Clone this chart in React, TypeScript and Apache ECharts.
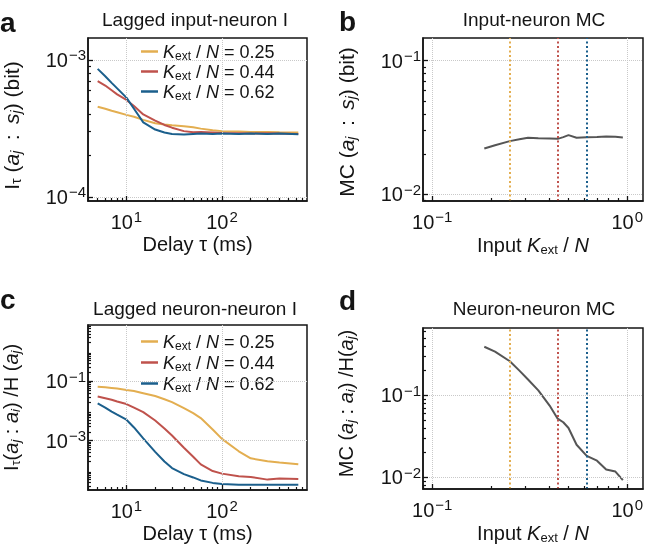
import React, { useEffect, useRef } from 'react';
import * as echarts from 'echarts';

const FONT = "'Liberation Sans', Arial, Helvetica, sans-serif";
const INK = '#141414';

// ---------- data ----------
const delays = [5, 6, 7, 8, 10, 12, 15, 20, 25, 30, 40, 50, 60, 80, 100, 150, 200, 300, 400, 630];

// panel a: lagged input-neuron information (bit)
const inputNeuron025 = [4.55e-4, 4.4e-4, 4.25e-4, 4.15e-4, 3.97e-4, 3.85e-4, 3.65e-4, 3.45e-4, 3.38e-4, 3.33e-4, 3.28e-4, 3.22e-4, 3.15e-4, 3.07e-4, 3.02e-4, 3.0e-4, 2.98e-4, 2.97e-4, 2.96e-4, 2.95e-4];
const inputNeuron044 = [7.0e-4, 6.5e-4, 6.0e-4, 5.6e-4, 5.1e-4, 4.6e-4, 4.0e-4, 3.6e-4, 3.35e-4, 3.2e-4, 3.02e-4, 2.96e-4, 2.97e-4, 2.95e-4, 2.93e-4, 2.92e-4, 2.9e-4, 2.92e-4, 2.9e-4, 2.88e-4];
const inputNeuron062 = [8.6e-4, 7.6e-4, 6.8e-4, 6.2e-4, 5.3e-4, 4.4e-4, 3.5e-4, 3.1e-4, 2.95e-4, 2.88e-4, 2.85e-4, 2.88e-4, 2.9e-4, 2.88e-4, 2.9e-4, 2.88e-4, 2.9e-4, 2.88e-4, 2.9e-4, 2.87e-4];

// panel c: lagged neuron-neuron information / H
const neuronNeuron025 = [0.066, 0.063, 0.06, 0.057, 0.051, 0.047, 0.04, 0.032, 0.025, 0.02, 0.0125, 0.0085, 0.0058, 0.0024, 0.00115, 4.4e-4, 2.55e-4, 2.05e-4, 1.85e-4, 1.6e-4];
const neuronNeuron044 = [0.031, 0.027, 0.024, 0.021, 0.0172, 0.013, 0.0092, 0.0048, 0.0026, 0.0015, 5.8e-4, 2.9e-4, 1.6e-4, 9.5e-5, 7.8e-5, 6.4e-5, 6.0e-5, 4.9e-5, 5.3e-5, 5.1e-5];
const neuronNeuron062 = [0.018, 0.013, 0.0095, 0.0075, 0.0051, 0.0028, 0.0012, 4.2e-4, 2.0e-4, 1.2e-4, 7.5e-5, 5.8e-5, 4.6e-5, 3.8e-5, 3.5e-5, 3.3e-5, 3.3e-5, 3.3e-5, 3.3e-5, 3.3e-5];

// panels b, d: memory capacity vs input ratio
const kRatio = [0.185, 0.21, 0.25, 0.28, 0.31, 0.35, 0.4, 0.44, 0.47, 0.5, 0.55, 0.62, 0.7, 0.78, 0.87, 0.95];
const mcInputNeuron = [0.022, 0.0233, 0.025, 0.0258, 0.0265, 0.0263, 0.0262, 0.026, 0.0268, 0.0277, 0.0265, 0.0267, 0.0268, 0.0271, 0.027, 0.0266];
const mcNeuronNeuron = [0.39, 0.34, 0.26, 0.2, 0.156, 0.115, 0.075, 0.052, 0.047, 0.04, 0.025, 0.0183, 0.016, 0.0125, 0.0118, 0.0093];

const ratioLevels = ['0.25', '0.44', '0.62'];
const ratioMarks = [0.25, 0.44, 0.62];
const levelColors = ['#E3AE50', '#BF524C', '#1B5F8C'];

// tick values
const delayMajor = [10, 100];
const ratioMajor = [0.1, 1];
const aYMajor = [1e-4, 1e-3];
const bYMajor = [0.01, 0.1];
const cYMajor = [1e-3, 1e-1];
const dYMajor = [0.01, 0.1];

const minorsIn = (lo: number, hi: number) => {
  const out: number[] = [];
  for (let e = -6; e <= 3; e++) {
    for (let k = 2; k <= 9; k++) {
      const v = k * Math.pow(10, e);
      if (v > lo && v < hi) out.push(v);
    }
  }
  return out;
};

// ---------- styling helpers ----------
const makeNameRich = (fs: number, subFs: number) => ({
  n: { fontSize: fs, fontFamily: FONT, color: INK },
  i: { fontSize: fs, fontFamily: FONT, fontStyle: 'italic', color: INK },
  sub: { fontSize: subFs, fontFamily: FONT, color: INK, padding: [9, 0, 0, 0] },
  isub: { fontSize: subFs, fontFamily: FONT, fontStyle: 'italic', color: INK, padding: [9, 0, 0, 0] },
});

const legendRich = {
  n: { fontSize: 18, fontFamily: FONT, color: INK, lineHeight: 20 },
  i: { fontSize: 18, fontFamily: FONT, fontStyle: 'italic', color: INK, lineHeight: 20 },
  sub: { fontSize: 12, fontFamily: FONT, color: INK, lineHeight: 20, padding: [8, 0, 0, 0] },
};

const tickRich = {
  b: { fontSize: 20, fontFamily: FONT, color: INK },
  sup: { fontSize: 15, fontFamily: FONT, color: INK, padding: [0, 0, 10, 1] },
};

const powLabel = (v: number) => {
  const e = Math.round(Math.log10(v));
  return `{b|10}{sup|${e < 0 ? '\u2212' : ''}${Math.abs(e)}}`;
};

type AxisSpec = {
  grid: number;
  min: number;
  max: number;
  majors: number[];
  name: string;
  nameGap: number;
  labelMargin: number;
  nameSize?: number;
  subSize?: number;
  namePadding?: number[];
};

const makeAxes = (dim: 'x' | 'y', s: AxisSpec) => {
  const position = dim === 'x' ? 'bottom' : 'left';
  const fs = s.nameSize ?? 20;
  const major = {
    type: 'log',
    logBase: 10,
    gridIndex: s.grid,
    position,
    min: s.min,
    max: s.max,
    axisLine: { show: true, lineStyle: { color: INK, width: 1.5 } },
    axisTick: { show: true, inside: true, length: 5, lineStyle: { color: INK, width: 1.3 }, customValues: s.majors },
    axisLabel: { show: true, customValues: s.majors, formatter: powLabel, rich: tickRich, margin: s.labelMargin, color: INK },
    splitLine: { show: true, lineStyle: { color: '#c9c9c9', type: 'dotted', width: 1 } },
    minorTick: { show: false },
    minorSplitLine: { show: false },
    name: s.name,
    nameLocation: 'middle',
    nameGap: s.nameGap,
    nameRotate: dim === 'y' ? 90 : 0,
    nameTextStyle: {
      rich: makeNameRich(fs, s.subSize ?? 13),
      fontFamily: FONT,
      fontSize: fs,
      color: INK,
      padding: s.namePadding ?? 0,
    },
    z: 5,
  };
  const minor = {
    type: 'log',
    logBase: 10,
    gridIndex: s.grid,
    position,
    min: s.min,
    max: s.max,
    axisLine: { show: false },
    axisTick: { show: true, inside: true, length: 3, lineStyle: { color: INK, width: 1.2 }, customValues: minorsIn(s.min, s.max) },
    axisLabel: { show: false },
    splitLine: { show: false },
    z: 5,
  };
  return [major, minor];
};

const delayName = '{n|Delay \u03c4 (ms)}';
const ratioName = '{n|Input }{i|K}{sub|ext}{n| / }{i|N}';
const wideColon = '{n|\u2002:\u2002}';

const legendFormatter = (name: string) => {
  const v = name.split('|')[1];
  return `{i|K}{sub|ext}{n| / }{i|N}{n| = ${v}}`;
};

const lineSeries = (name: string, xs: number[], ys: number[], color: string, axisIdx: number) => ({
  type: 'line',
  name,
  xAxisIndex: axisIdx,
  yAxisIndex: axisIdx,
  data: xs.map((x, i) => [x, ys[i]]),
  showSymbol: false,
  symbol: 'none',
  lineStyle: { color, width: 2 },
  itemStyle: { color },
  z: 3,
});

const markLines = {
  silent: true,
  symbol: ['none', 'none'],
  label: { show: false },
  data: ratioMarks.map((m, i) => ({ xAxis: m, lineStyle: { color: levelColors[i], type: [2, 2.5], width: 2 } })),
};

export default function App() {
  const ref = useRef<HTMLDivElement>(null);

  useEffect(() => {
    if (!ref.current) return;
    const chart = echarts.init(ref.current, undefined, { renderer: 'svg' });

    const grids = [
      { left: 83, top: 38, width: 224, height: 163 },
      { left: 423, top: 38, width: 222, height: 163 },
      { left: 83, top: 325, width: 224, height: 165 },
      { left: 423, top: 328, width: 222, height: 161 },
    ].map((g) => ({ ...g, show: true, borderColor: INK, borderWidth: 1.5, backgroundColor: 'transparent' }));

    const xAxes = [
      ...makeAxes('x', { grid: 0, min: 3.96, max: 777, majors: delayMajor, name: delayName, nameGap: 33, labelMargin: 8 }),
      ...makeAxes('x', { grid: 1, min: 0.0897, max: 1.205, majors: ratioMajor, name: ratioName, nameGap: 33, labelMargin: 8 }),
      ...makeAxes('x', { grid: 2, min: 3.96, max: 777, majors: delayMajor, name: delayName, nameGap: 33, labelMargin: 8 }),
      ...makeAxes('x', { grid: 3, min: 0.0897, max: 1.205, majors: ratioMajor, name: ratioName, nameGap: 33, labelMargin: 8 }),
    ];
    const yAxes = [
      ...makeAxes('y', {
        grid: 0, min: 9.33e-5, max: 1.445e-3, majors: aYMajor, nameGap: 65, labelMargin: 2,
        nameSize: 21, subSize: 14, namePadding: [0, 12, 0, 0],
        name: `{n|I}{sub|\u03c4}{n| (}{i|a}{isub|j}${wideColon}{i|s}{isub|j}{n|) (bit)}`,
      }),
      ...makeAxes('y', {
        grid: 1, min: 0.0089, max: 0.148, majors: bYMajor, nameGap: 65, labelMargin: 2,
        nameSize: 21, subSize: 14, namePadding: [0, 5, 0, 0],
        name: `{n|MC (}{i|a}{isub|j}${wideColon}{i|s}{isub|j}{n|) (bit)}`,
      }),
      ...makeAxes('y', {
        grid: 2, min: 2.19e-5, max: 7.9, majors: cYMajor, nameGap: 66, labelMargin: 2,
        name: '{n|I}{sub|\u03c4}{n|(}{i|a}{isub|j}{n| : }{i|a}{isub|i}{n|) /H (}{i|a}{isub|j}{n|)}',
      }),
      ...makeAxes('y', {
        grid: 3, min: 0.00724, max: 0.66, majors: dYMajor, nameGap: 66, labelMargin: 2,
        namePadding: [0, 0, 0, 10],
        name: '{n|MC (}{i|a}{isub|j}{n| : }{i|a}{isub|i}{n|) /H(}{i|a}{isub|j}{n|)}',
      }),
    ];

    const aSeries = [inputNeuron025, inputNeuron044, inputNeuron062].map((ys, i) =>
      lineSeries(`a|${ratioLevels[i]}`, delays, ys, levelColors[i], 0));
    const cSeries = [neuronNeuron025, neuronNeuron044, neuronNeuron062].map((ys, i) =>
      lineSeries(`c|${ratioLevels[i]}`, delays, ys, levelColors[i], 4));
    const bSeries = { ...lineSeries('b', kRatio, mcInputNeuron, '#555555', 2), markLine: markLines };
    const dSeries = { ...lineSeries('d', kRatio, mcNeuronNeuron, '#555555', 6), markLine: markLines };

    const legendBase = {
      orient: 'vertical',
      left: 141,
      padding: 0,
      icon: 'rect',
      itemWidth: 17,
      itemHeight: 2.5,
      selectedMode: false,
      formatter: legendFormatter,
      textStyle: { rich: legendRich, fontFamily: FONT, fontSize: 18, color: INK },
    };

    const titleBase = { padding: 0, textAlign: 'center', textStyle: { fontSize: 19, fontWeight: 'normal', color: INK, fontFamily: FONT } };

    const letter = (t: string, x: number, y: number) => ({
      type: 'text',
      x,
      y,
      style: { text: t, fontSize: 28, fontWeight: 'bold', fontFamily: FONT, fill: INK, verticalAlign: 'middle', align: 'left' },
    });

    chart.setOption({
      animation: false,
      textStyle: { fontFamily: FONT },
      title: [
        { ...titleBase, text: 'Lagged input-neuron I', left: 195, top: 10 },
        { ...titleBase, text: 'Input-neuron MC', left: 534, top: 10 },
        { ...titleBase, text: 'Lagged neuron-neuron I', left: 195, top: 299 },
        { ...titleBase, text: 'Neuron-neuron MC', left: 534, top: 299 },
      ],
      grid: grids,
      xAxis: xAxes,
      yAxis: yAxes,
      legend: [
        { ...legendBase, top: 41.5, itemGap: 0, data: ratioLevels.map((v) => `a|${v}`) },
        { ...legendBase, top: 331.5, itemGap: 1, data: ratioLevels.map((v) => `c|${v}`) },
      ],
      series: [...aSeries, bSeries, ...cSeries, dSeries],
      graphic: [
        letter('a', 0, 22),
        letter('b', 339, 21),
        letter('c', 0, 299),
        letter('d', 339, 300),
      ],
    });

    return () => chart.dispose();
  }, []);

  return <div ref={ref} style={{ position: 'fixed', left: 0, top: 0, width: 646, height: 551 }} />;
}
